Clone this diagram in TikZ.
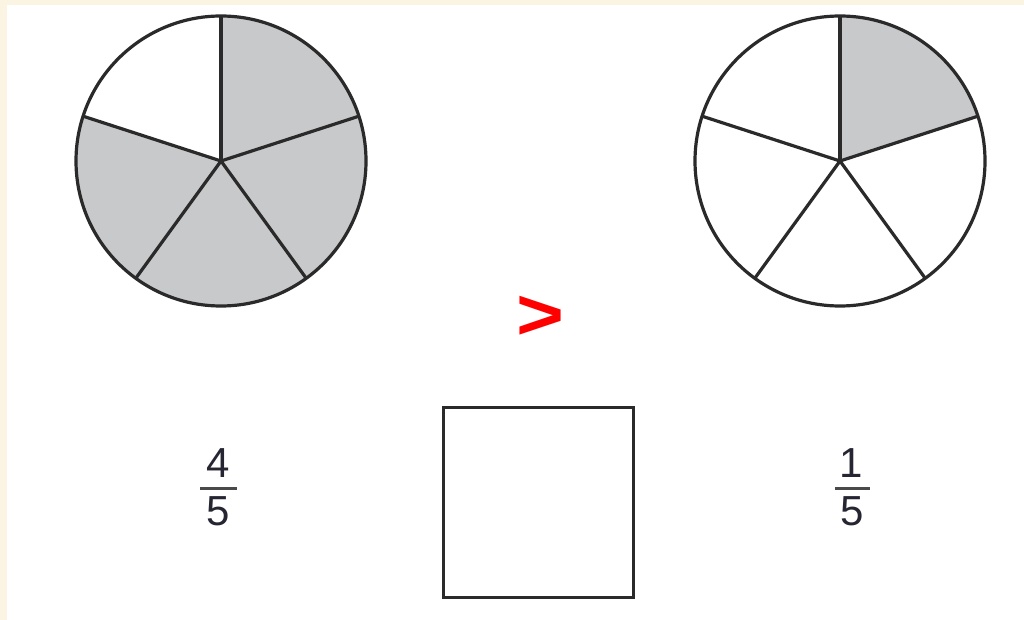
\documentclass[tikz,border=0pt]{standalone}
\usepackage{fontspec}
\setmainfont{Liberation Sans}
\definecolor{cream}{HTML}{FCF4E2}
\definecolor{pieline}{HTML}{2A2A2A}
\definecolor{piefill}{HTML}{C8C9CB}
\definecolor{digit}{HTML}{262633}
\definecolor{barcol}{HTML}{4A4A4A}
\tikzset{
  pie/.style={draw=pieline,line width=3.2pt,line join=round},
  shaded/.style={fill=piefill},
  digitnode/.style={text=digit,font=\fontsize{42}{42}\selectfont,inner sep=0pt},
  fracbar/.style={draw=barcol,line width=3pt},
  answerbox/.style={draw=pieline,line width=3pt,minimum width=190pt,minimum height=190pt,inner sep=0pt},
  relsign/.style={text=red,font=\fontsize{82}{82}\selectfont\bfseries,inner sep=0pt,xscale=1.0,yscale=0.88}
}
\begin{document}
\begin{tikzpicture}[x=1pt,y=-1pt]
\useasboundingbox (0,0) rectangle (1024,620);
\fill[cream] (0,0) rectangle (1024,620);
\fill[white] (7,5) rectangle (1024,620);
% left pie: 4/5 shaded
\coordinate (cl) at (221,161);
\foreach \a in {90,18,-54,-126} {
  \fill[shaded] (cl) -- ++(\a:145 and -145) arc[start angle=\a,end angle=\a-72,x radius=145,y radius=-145] -- cycle;
}
\draw[pie] (cl) circle[radius=145];
\foreach \a in {90,18,-54,-126,162} {
  \draw[pie] (cl) -- ++(\a:145 and -145);
}
% right pie: 1/5 shaded
\coordinate (cr) at (840,161);
\fill[shaded] (cr) -- ++(90:145 and -145) arc[start angle=90,end angle=18,x radius=145,y radius=-145] -- cycle;
\draw[pie] (cr) circle[radius=145];
\foreach \a in {90,18,-54,-126,162} {
  \draw[pie] (cr) -- ++(\a:145 and -145);
}
% relation sign
\node[relsign] (gt) at (540,318) {>};
% answer box
\node[answerbox] (box) at (538,502) {};
% fraction 4/5
\node[digitnode] (n4) at (218,463) {4};
\node[digitnode] (d4) at (218,511) {5};
\coordinate (b4l) at (200,488);
\coordinate (b4r) at (237,488);
\draw[fracbar] (b4l) -- (b4r);
% fraction 1/5
\node[digitnode] (n1) at (851,463) {1};
\node[digitnode] (d1) at (852,511) {5};
\coordinate (b1l) at (835,488);
\coordinate (b1r) at (870,488);
\draw[fracbar] (b1l) -- (b1r);
\end{tikzpicture}
\end{document}
